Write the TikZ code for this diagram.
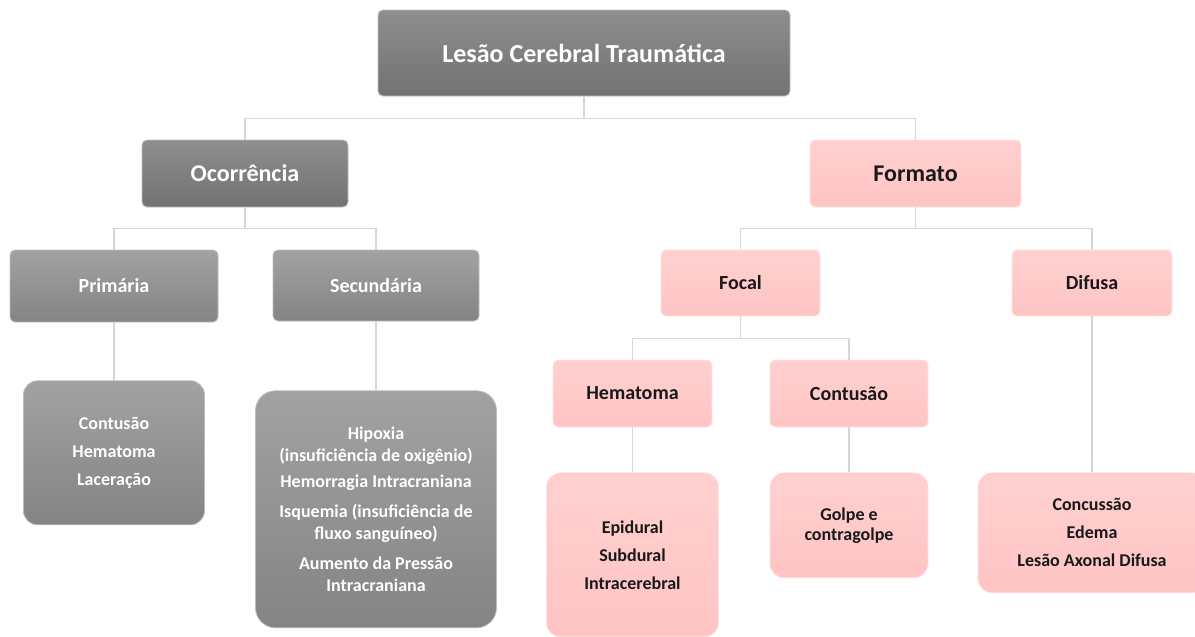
\documentclass[tikz,border=0pt]{standalone}
\usepackage{fontspec}
\setmainfont{Carlito}
\usetikzlibrary{positioning}
\definecolor{gtop}{HTML}{8E8E8E}
\definecolor{gbot}{HTML}{727272}
\definecolor{gtopl}{HTML}{A2A2A2}
\definecolor{gbotl}{HTML}{848484}
\definecolor{gline}{HTML}{BDBDBD}
\definecolor{ptop}{HTML}{FFD0D0}
\definecolor{pbot}{HTML}{FFC4C4}
\definecolor{pline}{HTML}{FFE2E2}
\definecolor{lineg}{HTML}{D6D6D6}
\newcommand{\lvlfont}[1]{\bfseries\fontsize{#1}{#1}\selectfont}
\begin{document}
\begin{tikzpicture}
[x=1pt,y=1pt,
  box/.style={rounded corners=5pt,align=center,inner sep=2pt,line width=0.8pt},
  greybox/.style={box,top color=gtop,bottom color=gbot,draw=gline,text=white},
  lightbox/.style={box,top color=gtopl,bottom color=gbotl,draw=gline,text=white},
  pinkbox/.style={box,top color=ptop,bottom color=pbot,draw=pline,text=black!90},
  leafbox/.style={rounded corners=14pt,font=\bfseries\fontsize{18}{28}\selectfont},
  conn/.style={draw=lineg,line width=1.6pt}]
\useasboundingbox (0,0) rectangle (1195,-637);
\node[greybox,minimum width=412,minimum height=86,font=\lvlfont{26}] (lct) at (584,-53) {Lesão Cerebral Traumática};
\node[greybox,minimum width=206,minimum height=67,font=\lvlfont{24}] (ocor) at (245,-173.5) {Ocorrência};
\node[pinkbox,minimum width=211,minimum height=67,font=\lvlfont{24}] (form) at (915.5,-173.5) {Formato};
\node[lightbox,minimum width=208,minimum height=72,font=\lvlfont{20}] (prim) at (114,-286) {Primária};
\node[lightbox,minimum width=206,minimum height=71,font=\lvlfont{20}] (secu) at (376,-285.5) {Secundária};
\node[pinkbox,minimum width=159,minimum height=66,font=\lvlfont{20}] (focal) at (740.5,-283) {Focal};
\node[pinkbox,minimum width=160,minimum height=66,font=\lvlfont{20}] (difu) at (1092,-283) {Difusa};
\node[pinkbox,minimum width=159,minimum height=67,font=\lvlfont{20}] (hema) at (632.5,-393.5) {Hematoma};
\node[pinkbox,minimum width=158,minimum height=67,font=\lvlfont{20}] (cont) at (849,-393.5) {Contusão};
\node[lightbox,leafbox,minimum width=181,minimum height=144,below=58pt of prim] (primL) {Contusão\\Hematoma\\Laceração};
\node[lightbox,leafbox,rounded corners=20pt,minimum width=241,minimum height=237,below=69pt of secu,
  font=\bfseries\fontsize{18}{22}\selectfont] (secuL) {Hipoxia\\(insuficiência de oxigênio)\\[4pt]
  Hemorragia Intracraniana\\[8pt]Isquemia (insuficiência de\\fluxo sanguíneo)\\[8pt]Aumento da Pressão\\Intracraniana};
\node[pinkbox,leafbox,minimum width=172,minimum height=164,below=45pt of hema] (hemaL) {Epidural\\Subdural\\Intracerebral};
\node[pinkbox,leafbox,minimum width=158,minimum height=105,below=45pt of cont,
  font=\bfseries\fontsize{18}{20}\selectfont] (contL) {Golpe e\\contragolpe};
\node[pinkbox,leafbox,minimum width=228,minimum height=120,below=156pt of difu] (difuL) {Concussão\\Edema\\Lesão Axonal Difusa};
\draw[conn] (lct.south) -- ++(0,-22pt) -| (ocor.north);
\draw[conn] (lct.south) -- ++(0,-22pt) -| (form.north);
\draw[conn] (ocor.south) -- ++(0,-21pt) -| (prim.north);
\draw[conn] (ocor.south) -- ++(0,-21pt) -| (secu.north);
\draw[conn] (form.south) -- ++(0,-21pt) -| (focal.north);
\draw[conn] (form.south) -- ++(0,-21pt) -| (difu.north);
\draw[conn] (focal.south) -- ++(0,-22pt) -| (hema.north);
\draw[conn] (focal.south) -- ++(0,-22pt) -| (cont.north);
\path[conn] (prim) -- (primL) (secu) -- (secuL) (hema) -- (hemaL) (cont) -- (contL) (difu) -- (difuL);
\end{tikzpicture}
\end{document}
